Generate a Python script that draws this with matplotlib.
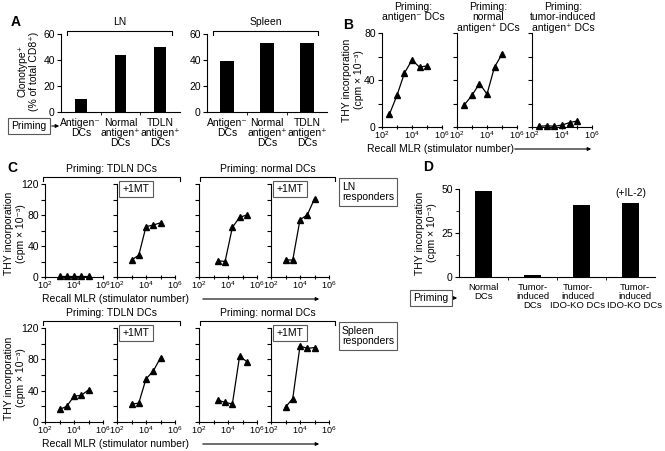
import numpy as np
import matplotlib
matplotlib.use("Agg")
import matplotlib.pyplot as plt
from matplotlib.lines import Line2D
from matplotlib.transforms import ScaledTranslation

plt.rcParams['font.family'] = ['Liberation Sans', 'DejaVu Sans']
plt.rcParams['mathtext.default'] = 'regular'
plt.rcParams['font.size'] = 7.5
plt.rcParams['axes.linewidth'] = 0.8

# Data ------------------------------------------------------------------------
A_cats = ['Antigen⁻\nDCs', 'Normal\nantigen⁺\nDCs', 'TDLN\nantigen⁺\nDCs']
A_ln = [10, 44, 50]
A_spleen = [39, 53, 53]

B_x = [316, 1000, 3162, 10000, 31623, 100000]
B_antneg = [11, 27, 46, 57, 51, 52]
B_normal = [19, 27, 37, 28, 51, 62]
B_tumor = [0.6, 1.1, 0.6, 1.7, 3.7, 5.1]
B_titles = ['Priming:\nantigen⁻ DCs', 'Priming:\nnormal\nantigen⁺ DCs',
            'Priming:\ntumor-induced\nantigen⁺ DCs']

C_x = [1000, 3162, 10000, 31623, 100000]
C_x_norm = [2000, 6300, 20000, 63000, 200000]
C_ln_tdln = [1, 1, 1, 1, 1]
C_ln_tdln_1mt = [22, 28, 65, 67, 70]
C_ln_norm = [21, 20, 64, 77, 80]
C_ln_norm_1mt = [22, 22, 74, 80, 101]
C_sp_tdln = [16, 20, 33, 34, 41]
C_sp_tdln_1mt = [23, 24, 55, 65, 82]
C_sp_norm = [28, 25, 23, 84, 77]
C_sp_norm_1mt = [19, 30, 97, 94, 95]

D_cats = ['Normal\nDCs', 'Tumor-\ninduced\nDCs', 'Tumor-\ninduced\nIDO-KO DCs',
          'Tumor-\ninduced\nIDO-KO DCs']
D_vals = [49, 1, 41, 42]

THY = 'THY incorporation\n(cpm × 10⁻³)'
MLR = 'Recall MLR (stimulator number)'

# Helpers ---------------------------------------------------------------------
W, H = 665, 451
fig = plt.figure(figsize=(W / 100, H / 100), dpi=100)


def fx(x):
    return x / W


def fy(y):
    return 1 - y / H


def add_ax(l, t, r, b):
    ax = fig.add_axes([fx(l), fy(b), (r - l) / W, (b - t) / H])
    ax.spines['top'].set_visible(False)
    ax.spines['right'].set_visible(False)
    return ax


def ftext(x, y, s, **kw):
    kw.setdefault('ha', 'center')
    kw.setdefault('va', 'center')
    return fig.text(fx(x), fy(y), s, **kw)


def bracket(x0, x1, y, label, ty):
    fig.add_artist(Line2D([fx(x0), fx(x0), fx(x1), fx(x1)],
                          [fy(y + 4), fy(y), fy(y), fy(y + 4)],
                          color='black', lw=0.8))
    ftext((x0 + x1) / 2, ty, label, fontsize=7.5)


def arrow(x0, x1, y):
    fig.add_artist(matplotlib.patches.FancyArrowPatch(
        (fx(x0), fy(y)), (fx(x1), fy(y)), transform=fig.transFigure,
        arrowstyle='-|>', mutation_scale=5, lw=0.8, color='black'))


def boxed(x, y, s, ha='center'):
    ftext(x, y, s, ha=ha, fontsize=7.5, linespacing=1.1,
          bbox=dict(boxstyle='square,pad=0.3', fc='white', ec='0.35', lw=0.8))


def bar_panel(ax, vals, cats, ymax, step, width, fs=7.5):
    pos = np.arange(len(vals))
    ax.bar(pos, vals, width=width, color='black')
    ax.set_xlim(-0.5, len(vals) - 0.5)
    ax.set_ylim(0, ymax)
    ax.set_yticks(np.arange(0, ymax + 1, step))
    ax.set_xticks(pos)
    ax.set_xticklabels(cats, linespacing=1.05, va='top', fontsize=fs)
    ax.set_xticks(pos[:-1] + 0.5, minor=True)
    ax.tick_params(axis='x', which='major', length=0, pad=4)
    ax.tick_params(axis='x', which='minor', length=2.5)
    ax.tick_params(axis='y', length=3, pad=1.5)


def log_panel(ax, x, y, ymax, ystep, ylab_every, show_ylabels):
    ax.plot(x, y, color='black', lw=0.9, marker='^', ms=4.5, clip_on=False)
    ax.set_xscale('log')
    ax.set_xlim(1e2, 1e6)
    ax.set_ylim(0, ymax)
    ax.set_xticks([1e2, 1e3, 1e4, 1e5, 1e6])
    ax.set_xticklabels(['$10^2$', '', '$10^4$', '', '$10^6$'], fontsize=6.5)
    ax.xaxis.set_minor_locator(matplotlib.ticker.LogLocator(base=10, subs=np.arange(2, 10)))
    ax.xaxis.set_minor_formatter(matplotlib.ticker.NullFormatter())
    ax.tick_params(axis='x', which='major', length=3, direction='inout', pad=0.5)
    ax.tick_params(axis='x', which='minor', length=2, direction='inout')
    yt = np.arange(0, ymax + 1, ystep)
    ax.set_yticks(yt)
    if show_ylabels:
        ax.set_yticklabels([str(v) if v % ylab_every == 0 else '' for v in yt])
    else:
        ax.set_yticklabels([])
    ax.tick_params(axis='y', length=3, pad=1.5)


# Panel A ---------------------------------------------------------------------
ftext(16, 22, 'A', fontsize=10, fontweight='bold')
ax = add_ax(61, 34, 180, 112)
bar_panel(ax, A_ln, A_cats, 60, 20, 0.3)
ax = add_ax(207, 34, 327, 112)
bar_panel(ax, A_spleen, A_cats, 60, 20, 0.33)
bracket(67, 172, 31, 'LN', 22)
bracket(213, 318, 31, 'Spleen', 22)
ftext(28, 71, 'Clonotype⁺\n(% of total CD8⁺)', rotation=90, linespacing=1.2)
boxed(29, 126, 'Priming')
arrow(49, 62, 126)

# Panel B ---------------------------------------------------------------------
ftext(348, 25, 'B', fontsize=10, fontweight='bold')
B_series = [B_antneg, B_normal, B_tumor]
B_lefts = [382, 457, 532]
for i in range(3):
    ax = add_ax(B_lefts[i], 33, B_lefts[i] + 60, 127)
    log_panel(ax, B_x, B_series[i], 80, 20, 40, i == 0)
    ftext(B_lefts[i] + 31, 2, B_titles[i], va='top', linespacing=1.05)
ftext(353, 80, THY, rotation=90, linespacing=1.2)
ftext(367, 149, MLR, ha='left')
arrow(512, 594, 149)

# Panel C ---------------------------------------------------------------------
ftext(12, 168, 'C', fontsize=10, fontweight='bold')
C_rows = [
    (184, 277, [(C_x, C_ln_tdln), (C_x, C_ln_tdln_1mt),
                (C_x_norm, C_ln_norm), (C_x, C_ln_norm_1mt)], 'LN\nresponders'),
    (328, 422, [(C_x, C_sp_tdln), (C_x, C_sp_tdln_1mt),
                (C_x_norm, C_sp_norm), (C_x, C_sp_norm_1mt)], 'Spleen\nresponders'),
]
C_lefts = [45, 117, 199, 271]
for top, bot, series, resp in C_rows:
    for j in range(4):
        ax = add_ax(C_lefts[j], top, C_lefts[j] + 58, bot)
        log_panel(ax, series[j][0], series[j][1], 120, 20, 40, j == 0)
        if j in (1, 3):
            boxed(C_lefts[j] + 19, top + 5, '+1MT')
    bracket(43, 180, top - 7, 'Priming: TDLN DCs', top - 15)
    bracket(200, 335, top - 7, 'Priming: normal DCs', top - 15)
    ftext(15, (top + bot) / 2 + 3, THY, rotation=90, linespacing=1.2)
    ftext(115, bot + 22, MLR)
    arrow(200, 322, bot + 22)
    boxed(342, top + 8, resp, ha='left')

# Panel D ---------------------------------------------------------------------
ftext(428, 167, 'D', fontsize=10, fontweight='bold')
ax = add_ax(459, 189, 655, 277)
bar_panel(ax, D_vals, D_cats, 50, 25, 0.35, fs=6.8)
labs = ax.get_xticklabels()
labs[2].set_transform(labs[2].get_transform() + ScaledTranslation(-4 / 100, 0, fig.dpi_scale_trans))
labs[3].set_transform(labs[3].get_transform() + ScaledTranslation(4 / 100, 0, fig.dpi_scale_trans))
ax.set_yticks([12.5, 37.5], minor=True)
ax.tick_params(axis='y', which='minor', length=2)
ax.text(3, D_vals[3] + 3, '(+IL-2)', ha='center', va='bottom')
ftext(426, 233, THY, rotation=90, linespacing=1.2)
boxed(431, 298, 'Priming')
arrow(451, 460, 298)

fig.savefig('out.png', dpi=100)
